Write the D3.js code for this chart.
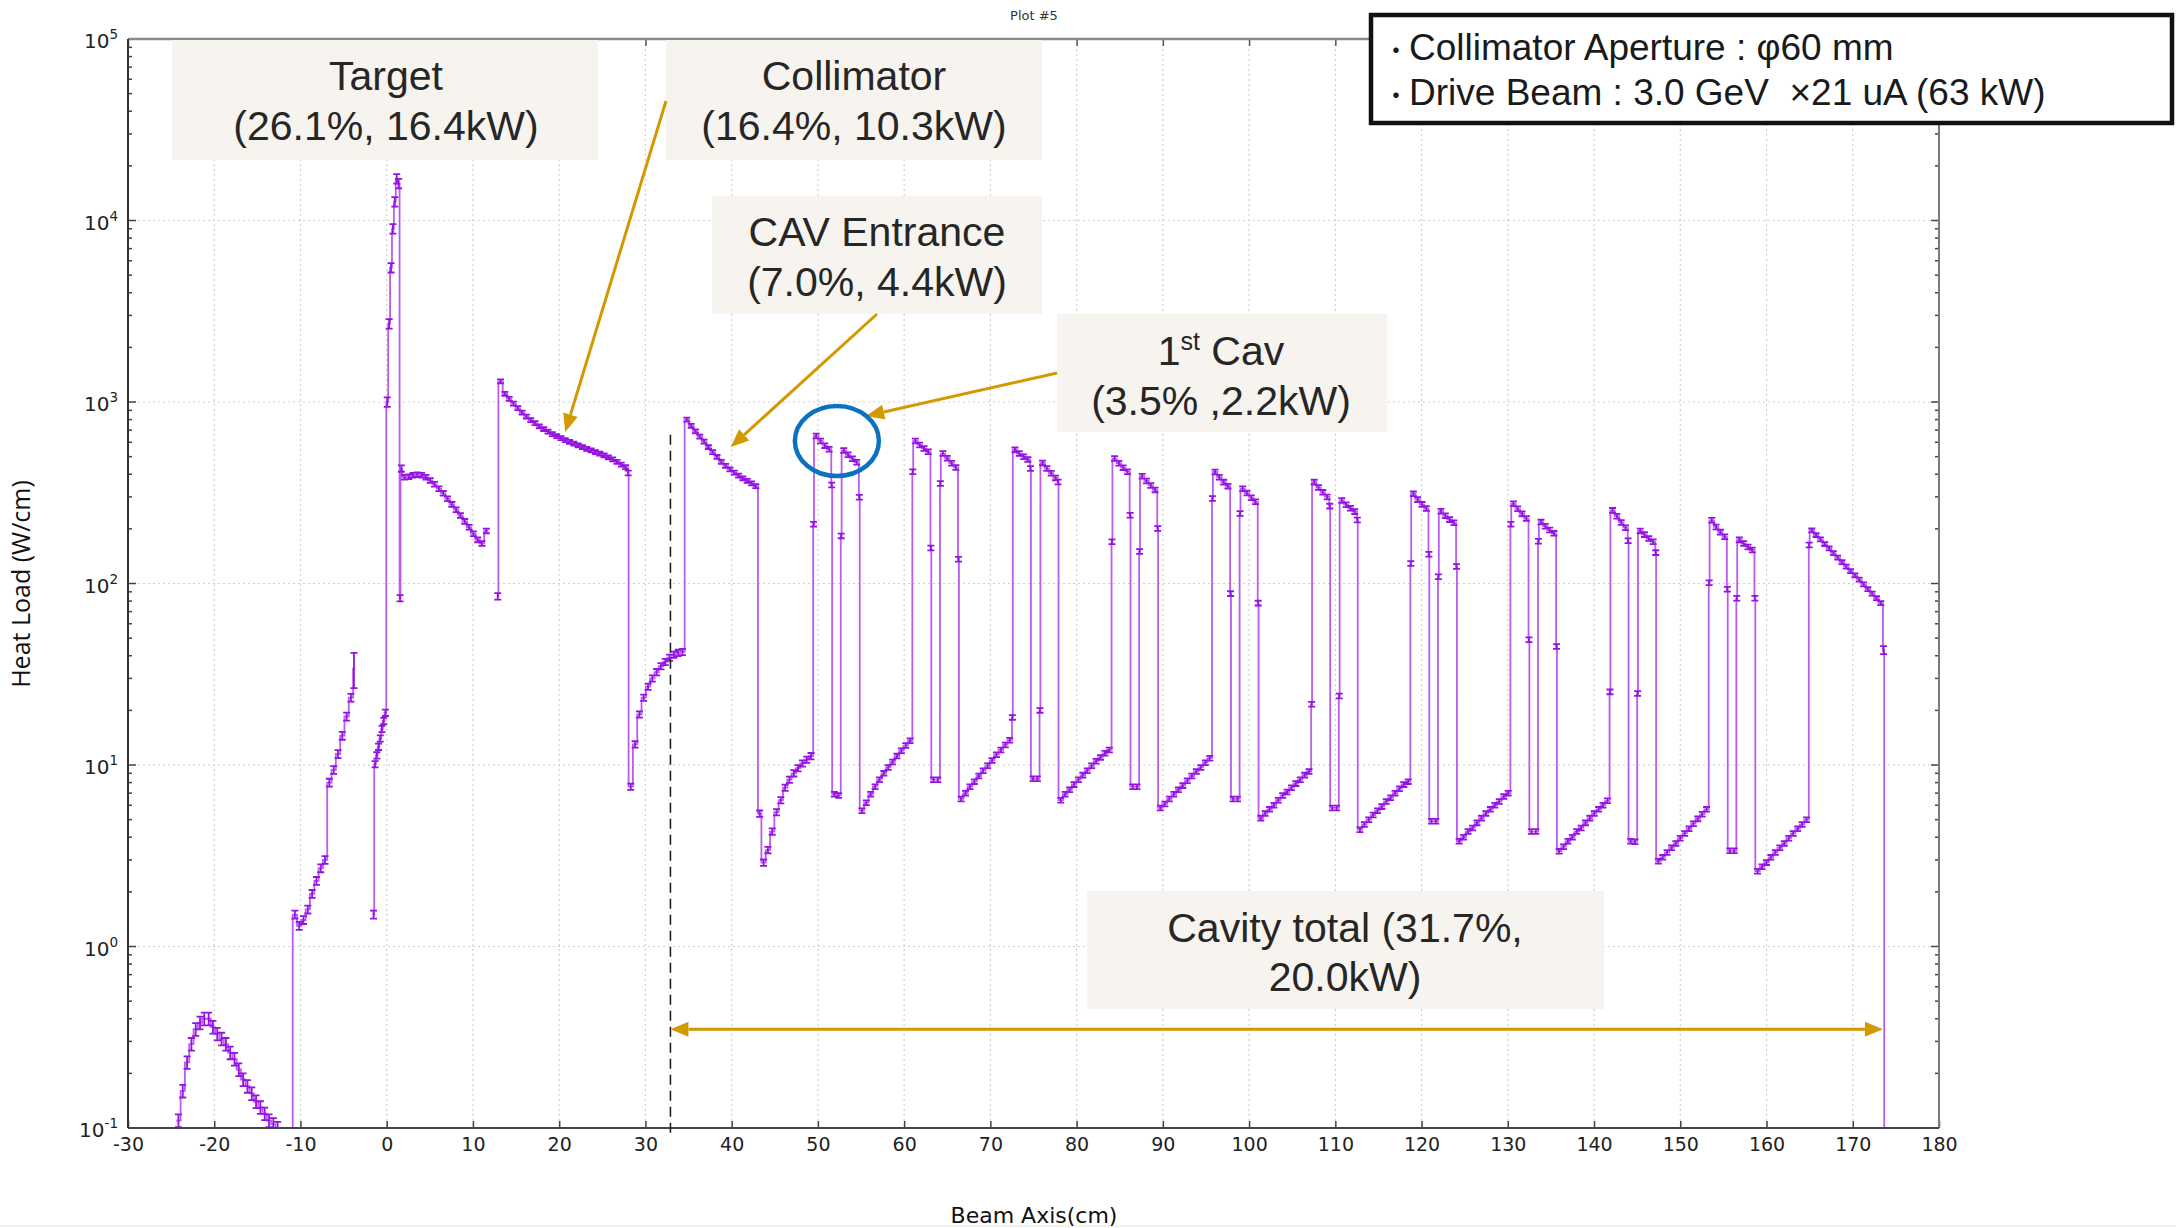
<!DOCTYPE html>
<html>
<head>
<meta charset="utf-8">
<script src="https://cdn.jsdelivr.net/npm/d3@7"></script>
<style>
  body { margin: 0; background: #fff; }
  svg { display: block; }
</style>
</head>
<body>
<svg id="chart" width="2176" height="1228"></svg>
<script>
// ---------------------------------------------------------------
// Heat load along the beam axis (W/cm), binned histogram with errors
// ---------------------------------------------------------------
const xTicks = [-30, -20, -10, 0, 10, 20, 30, 40, 50, 60, 70, 80, 90, 100, 110, 120, 130, 140, 150, 160, 170, 180];
const yTicks = [1e-1, 1e0, 1e1, 1e2, 1e3, 1e4, 1e5];
const yTickExp = ["-1", "0", "1", "2", "3", "4", "5"];

// Runs of consecutive bins outside the cavity cells:
// first bin edge (cm), bin width (cm), relative error, heat load per bin (W/cm)
const runStart = [-24.4, -10.9, -3.9, -1.6, -1.45, -0.05, 1.49, 1.6, 1.8, 12.8, 12.95, 27.95, 28.05, 34.55, 43.05, 43.45, 164.9, 165.0, 173.5, 173.65];
const runWidth = [0.5, 0.5, 0.2, 0.15, 0.2, 0.22, 0.11, 0.2, 0.5, 0.15, 0.5, 0.1, 0.5, 0.5, 0.4, 0.5, 0.1, 0.5, 0.15, 3];
const runError = [0.08, 0.05, 0.22, 0.05, 0.04, 0.06, 0.04, 0.04, 0.03, 0.04, 0.025, 0.03, 0.04, 0.025, 0.04, 0.04, 0.03, 0.025, 0.05, 0.05];
const runValues = [
  // upstream halo
  [0.11, 0.16, 0.23, 0.29, 0.35, 0.38, 0.40, 0.40, 0.36, 0.33, 0.31, 0.29, 0.26, 0.24, 0.21, 0.185, 0.17, 0.155, 0.14, 0.13, 0.12, 0.11, 0.105, 0.10, 0.095, 0.09, 0.085],
  // window / flange
  [1.5, 1.3, 1.4, 1.6, 1.95, 2.3, 2.7, 3.0, 8.0, 9.4, 11.5, 14.5, 18.5, 23.5],
  [34],
  [1.5],
  [10.1, 11.3, 12.6, 14.0, 15.8, 17.5, 19.4],
  // target
  [1000, 2700, 5500, 9000, 12700, 17000, 16000],
  [83],
  [430],
  [385, 388, 395, 398, 395, 385, 370, 352, 333, 314, 293, 273, 255, 237, 220, 204, 188, 174, 166, 195],
  // collimator
  [85],
  [1300, 1110, 1040, 980, 925, 875, 832, 795, 765, 735, 710, 686, 665, 648, 632, 617, 603, 590, 577, 564, 552, 541, 530, 519, 508, 496, 483, 468, 452, 438],
  [406],
  [7.6, 13, 19, 23.5, 27, 30, 32.5, 35, 37, 39, 40.5, 41.5, 42],
  // cavity entrance
  [800, 740, 690, 645, 605, 565, 530, 498, 468, 445, 425, 408, 393, 380, 368, 356, 344],
  [5.4],
  [2.9, 3.4, 4.3, 5.5, 6.4, 7.5, 8.3, 9.0, 9.6, 10.2, 10.7, 11.2],
  // last cell
  [163],
  [196, 185, 175, 165, 156, 147, 139, 131, 124, 117, 111, 105, 99, 93, 88, 83, 78],
  [43],
  [0.02]
];

// Cavity cells: start of each cell (cm); the last entry starts the final cell
const cellStart = [49.45, 60.95, 72.5, 84.05, 95.7, 107.2, 118.7, 130.3, 141.8, 153.3, 164.9];
const cellEntry = [212, 413, 18.3, 170, 294, 21.6, 129, 212, 25.3, 101];
const cellHigh1 = [
  [650, 610, 575, 550],
  [610, 580, 555, 532],
  [545, 520, 500, 483],
  [488, 460, 435, 413],
  [412, 385, 362, 344],
  [362, 338, 318, 300],
  [312, 290, 273, 259],
  [275, 258, 242, 228],
  [253, 235, 217, 203],
  [223, 205, 192, 181]
];
const cellDrop = [349, 157, 430, 238, 88, 267, 145, 49, 172, 93];
const cellGap = [[6.9, 6.8], [8.3, 8.3], [8.4, 8.4], [7.6, 7.6], [6.5, 6.5], [5.8, 5.8], [4.9, 4.9], [4.3, 4.3], [3.8, 3.78], [3.37, 3.37]];
const cellRiseTick = [183, 356, 20, 150, 243, 24, 109, 171, 24.8, 83];
const cellHigh2 = [
  [540, 512, 487, 466],
  [520, 490, 460, 436],
  [462, 430, 405, 382],
  [390, 367, 347, 328],
  [333, 315, 297, 282],
  [287, 272, 260, 249],
  [250, 236, 225, 216],
  [218, 207, 197, 189],
  [195, 186, 177, 170],
  [174, 166, 159, 153]
];
const cellExit = [299, 136, 363, 201, 78, 224, 124, 45, 148, 83];
const cellRise = [
  [5.6, 6.2, 6.9, 7.6, 8.3, 9.0, 9.7, 10.4, 11.2, 12.0, 12.8, 13.6],
  [6.5, 7.0, 7.6, 8.1, 8.7, 9.3, 9.9, 10.6, 11.4, 12.1, 12.9, 13.7],
  [6.4, 6.9, 7.3, 7.8, 8.3, 8.8, 9.3, 9.9, 10.5, 11.0, 11.6, 12.1],
  [5.8, 6.1, 6.5, 6.9, 7.3, 7.7, 8.2, 8.7, 9.2, 9.7, 10.3, 10.9],
  [5.1, 5.4, 5.7, 6.0, 6.4, 6.8, 7.1, 7.5, 7.9, 8.3, 8.8, 9.2],
  [4.4, 4.7, 5.0, 5.3, 5.6, 5.9, 6.3, 6.6, 7.0, 7.4, 7.8, 8.1],
  [3.8, 4.0, 4.3, 4.5, 4.8, 5.1, 5.4, 5.7, 6.0, 6.3, 6.7, 7.0],
  [3.35, 3.55, 3.8, 4.0, 4.3, 4.5, 4.8, 5.1, 5.4, 5.7, 6.0, 6.35],
  [2.95, 3.1, 3.3, 3.5, 3.7, 3.95, 4.2, 4.45, 4.75, 5.05, 5.35, 5.7],
  [2.6, 2.75, 2.9, 3.1, 3.3, 3.5, 3.7, 3.95, 4.2, 4.45, 4.7, 5.0]
];
const cellError = 0.03;

// Annotations
const noteHeads = ["Target", "Collimator", "CAV Entrance", "1", "Cavity total (31.7%,"];
const noteTails = ["(26.1%, 16.4kW)", "(16.4%, 10.3kW)", "(7.0%, 4.4kW)", "(3.5% ,2.2kW)", "20.0kW)"];
const infoLines = ["Collimator Aperture : φ60 mm", "Drive Beam : 3.0 GeV  ×21 uA (63 kW)"];
const collimatorEnd = 32.9;   // cm, start of the cavity section
const cavityEnd = 173.5;      // cm

// ---------------------------------------------------------------
const svg = d3.select("#chart");
const W = 2176, H = 1228;
const M = { left: 128, right: 1939, top: 39, bottom: 1128 };
const x = d3.scaleLinear().domain([-30, 180]).range([M.left, M.right]);
const y = d3.scaleLog().domain([0.1, 1e5]).range([M.bottom, M.top]);

svg.append("rect").attr("width", W).attr("height", H).attr("fill", "#fff");
svg.append("line").attr("x1", 0).attr("x2", W).attr("y1", 1226).attr("y2", 1226)
  .attr("stroke", "#ececec").attr("stroke-width", 1.5);

// ---- build the bin list ----
const bins = [];
runStart.forEach((x0, i) => {
  runValues[i].forEach((v, j) => {
    bins.push({ x0: x0 + j * runWidth[i], x1: x0 + (j + 1) * runWidth[i], v, e: runError[i] });
  });
});
cellEntry.forEach((_, k) => {
  let pos = cellStart[k];
  const add = (vals, w) => vals.forEach(v => { bins.push({ x0: pos, x1: pos + w, v, e: cellError }); pos += w; });
  add([cellEntry[k]], 0.1);
  add(cellHigh1[k], 0.5);
  add([cellDrop[k]], 0.1);
  add(cellGap[k], 0.5);
  add([cellRiseTick[k]], 0.1);
  add(cellHigh2[k], 0.5);
  add([cellExit[k]], 0.1);
  add(cellRise[k], (cellStart[k + 1] - pos) / cellRise[k].length);
});
bins.sort((a, b) => a.x0 - b.x0);

// contiguous groups become one stepped path each
const groups = [];
bins.forEach(b => {
  const g = groups[groups.length - 1];
  if (g && Math.abs(g[g.length - 1].x1 - b.x0) < 1e-6) g.push(b);
  else groups.push([b]);
});

// ---- grid ----
const grid = svg.append("g").attr("stroke", "#cfcfcf").attr("stroke-width", 1.2).attr("stroke-dasharray", "2,3");
xTicks.filter(d => d > -30 && d < 180).forEach(d => {
  grid.append("line").attr("x1", x(d)).attr("x2", x(d)).attr("y1", M.top).attr("y2", M.bottom);
});
yTicks.slice(1, -1).forEach(v => {
  grid.append("line").attr("x1", M.left).attr("x2", M.right).attr("y1", y(v)).attr("y2", y(v));
});

// ---- data ----
svg.append("clipPath").attr("id", "plotClip").append("rect")
  .attr("x", M.left).attr("y", M.top).attr("width", M.right - M.left).attr("height", M.bottom - M.top);
const plot = svg.append("g").attr("clip-path", "url(#plotClip)");

const stepPath = g => {
  let d = `M${x(g[0].x0)},${y(g[0].v)}`;
  g.forEach((b, i) => {
    if (i > 0) d += `V${y(b.v)}`;
    d += `H${x(b.x1)}`;
  });
  return d;
};
plot.append("g").selectAll("path").data(groups).join("path")
  .attr("d", stepPath)
  .attr("fill", "none")
  .attr("stroke", "#bb5cf0")
  .attr("stroke-width", 1.8);

const cap = 3.5;
const errPath = b => {
  const cx = x((b.x0 + b.x1) / 2);
  const yt = y(b.v * (1 + b.e)), yb = y(b.v * (1 - b.e));
  return `M${cx},${yt}V${yb}M${cx - cap},${yt}H${cx + cap}M${cx - cap},${yb}H${cx + cap}`;
};
plot.append("path")
  .attr("d", bins.filter(b => b.v >= 0.1).map(errPath).join(""))
  .attr("fill", "none")
  .attr("stroke", "#9413e0")
  .attr("stroke-width", 1.8);

// ---- axes ----
const xAxisBottom = d3.axisBottom(x).tickValues(xTicks).tickSize(-7).tickPadding(10).tickFormat(d => String(d));
svg.append("g").attr("transform", `translate(0,${M.bottom})`).call(xAxisBottom)
  .call(g => g.select(".domain").remove())
  .call(g => g.selectAll(".tick line").attr("stroke", "#444").attr("stroke-width", 1.5))
  .call(g => g.selectAll("text").attr("font-family", "DejaVu Sans").attr("font-size", 19).attr("fill", "#222"));
svg.append("g").attr("transform", `translate(0,${M.top})`)
  .call(d3.axisTop(x).tickValues(xTicks).tickSize(-7).tickFormat(""))
  .call(g => g.select(".domain").remove())
  .call(g => g.selectAll(".tick line").attr("stroke", "#555").attr("stroke-width", 1.5));

const minorTicks = [];
for (let e = -1; e < 5; e++) for (let m = 2; m <= 9; m++) minorTicks.push(m * Math.pow(10, e));
const yt = svg.append("g").attr("stroke", "#444").attr("stroke-width", 1.5);
yTicks.forEach(v => {
  yt.append("line").attr("x1", M.left).attr("x2", M.left + 8).attr("y1", y(v)).attr("y2", y(v));
  yt.append("line").attr("x1", M.right - 8).attr("x2", M.right).attr("y1", y(v)).attr("y2", y(v));
});
minorTicks.forEach(v => {
  yt.append("line").attr("x1", M.left).attr("x2", M.left + 4).attr("y1", y(v)).attr("y2", y(v));
  yt.append("line").attr("x1", M.right - 4).attr("x2", M.right).attr("y1", y(v)).attr("y2", y(v));
});

// frame
svg.append("line").attr("x1", M.left).attr("x2", M.right).attr("y1", M.top).attr("y2", M.top).attr("stroke", "#8a8a8a").attr("stroke-width", 2.5);
svg.append("line").attr("x1", M.right).attr("x2", M.right).attr("y1", M.top).attr("y2", M.bottom).attr("stroke", "#7a7a7a").attr("stroke-width", 2);
svg.append("line").attr("x1", M.left).attr("x2", M.right).attr("y1", M.bottom).attr("y2", M.bottom).attr("stroke", "#444").attr("stroke-width", 2);
svg.append("line").attr("x1", M.left).attr("x2", M.left).attr("y1", M.top).attr("y2", M.bottom).attr("stroke", "#333").attr("stroke-width", 2);

// y tick labels 10^n
yTicks.forEach((v, i) => {
  const t = svg.append("text").attr("x", M.left - 10).attr("y", y(v) + 9)
    .attr("text-anchor", "end").attr("font-family", "DejaVu Sans").attr("fill", "#222");
  t.append("tspan").attr("font-size", 20).text("10");
  t.append("tspan").attr("font-size", 13.5).attr("dy", -9).text(yTickExp[i]);
});

// titles
svg.append("text").attr("x", 1034).attr("y", 20).attr("text-anchor", "middle")
  .attr("font-family", "DejaVu Sans").attr("font-size", 13).attr("fill", "#333").text("Plot #5");
svg.append("text").attr("x", 1034).attr("y", 1223).attr("text-anchor", "middle")
  .attr("font-family", "DejaVu Sans").attr("font-size", 22).attr("fill", "#111").text("Beam Axis(cm)");
svg.append("text").attr("transform", "translate(30,584) rotate(-90)").attr("text-anchor", "middle")
  .attr("font-family", "Open Sans").attr("font-size", 25).attr("fill", "#111").text("Heat Load (W/cm)");

// cavity-section boundary
svg.append("line").attr("x1", x(collimatorEnd)).attr("x2", x(collimatorEnd))
  .attr("y1", y(660)).attr("y2", M.bottom + 8)
  .attr("stroke", "#222").attr("stroke-width", 1.6).attr("stroke-dasharray", "10,6");

// ---- annotation boxes ----
const boxFill = "#f7f3ee", ink = "#262626", noteFont = "Liberation Sans, Arial, sans-serif";
const boxes = [
  { x: 172, y: 40, w: 426, h: 120, cx: 386, b1: 90, b2: 140 },
  { x: 666, y: 40, w: 376, h: 120, cx: 854, b1: 90, b2: 140 },
  { x: 712, y: 196, w: 330, h: 118, cx: 877, b1: 246, b2: 296 },
  { x: 1057, y: 314, w: 330, h: 118, cx: 1221, b1: 365, b2: 415 },
  { x: 1087, y: 891, w: 517, h: 118, cx: 1345, b1: 942, b2: 991 }
];
const notes = svg.append("g");
boxes.forEach((b, i) => {
  notes.append("rect").attr("x", b.x).attr("y", b.y).attr("width", b.w).attr("height", b.h).attr("fill", boxFill);
  const t1 = notes.append("text").attr("x", b.cx).attr("y", b.b1).attr("text-anchor", "middle")
    .attr("font-family", noteFont).attr("font-size", 41).attr("fill", ink);
  if (i === 3) {
    t1.append("tspan").text(noteHeads[i]);
    t1.append("tspan").attr("font-size", 25).attr("dy", -15).text("st");
    t1.append("tspan").attr("dy", 15).text(" Cav");
  } else {
    t1.text(noteHeads[i]);
  }
  notes.append("text").attr("x", b.cx).attr("y", b.b2).attr("text-anchor", "middle")
    .attr("font-family", noteFont).attr("font-size", 41).attr("fill", ink).text(noteTails[i]);
});

// ---- arrows ----
const gold = "#d29a00";
const arrows = svg.append("g");
function head(xt, yt, xf, yf, len = 18, half = 7.5) {
  const a = Math.atan2(yt - yf, xt - xf);
  const bx = xt - len * Math.cos(a), by = yt - len * Math.sin(a);
  arrows.append("path")
    .attr("d", `M${xt},${yt}L${bx + half * Math.sin(a)},${by - half * Math.cos(a)}L${bx - half * Math.sin(a)},${by + half * Math.cos(a)}Z`)
    .attr("fill", gold);
  return [bx, by];
}
function arrow(x1, y1, x2, y2, both = false) {
  let [sx, sy] = [x1, y1];
  if (both) [sx, sy] = head(x1, y1, x2, y2);
  const [ex, ey] = head(x2, y2, x1, y1);
  arrows.append("line").attr("x1", sx).attr("y1", sy).attr("x2", ex).attr("y2", ey)
    .attr("stroke", gold).attr("stroke-width", 3);
}
arrow(666, 101, x(20.7), y(684));
arrow(877, 314, x(39.9), y(565));
arrow(1057, 373, x(55.6), y(837));
arrow(x(collimatorEnd), y(0.35), x(cavityEnd), y(0.35), true);

// first-cavity highlight
svg.append("ellipse").attr("cx", x(52.2)).attr("cy", y(610)).attr("rx", 42).attr("ry", 35)
  .attr("fill", "none").attr("stroke", "#0b72c0").attr("stroke-width", 4.5);

// ---- beam condition box ----
const info = svg.append("g");
info.append("rect").attr("x", 1371).attr("y", 15).attr("width", 801).attr("height", 108)
  .attr("fill", "#fff").attr("stroke", "#111").attr("stroke-width", 4.5);
infoLines.forEach((s, i) => {
  const t = info.append("text").attr("x", 1383).attr("y", 60 + i * 45)
    .attr("font-family", noteFont).attr("font-size", 37).attr("fill", "#1a1a1a")
    .style("white-space", "pre");
  t.append("tspan").attr("font-family", "Noto Sans CJK JP").attr("font-size", 26).text("・");
  t.append("tspan").text(s);
});
</script>
</body>
</html>
